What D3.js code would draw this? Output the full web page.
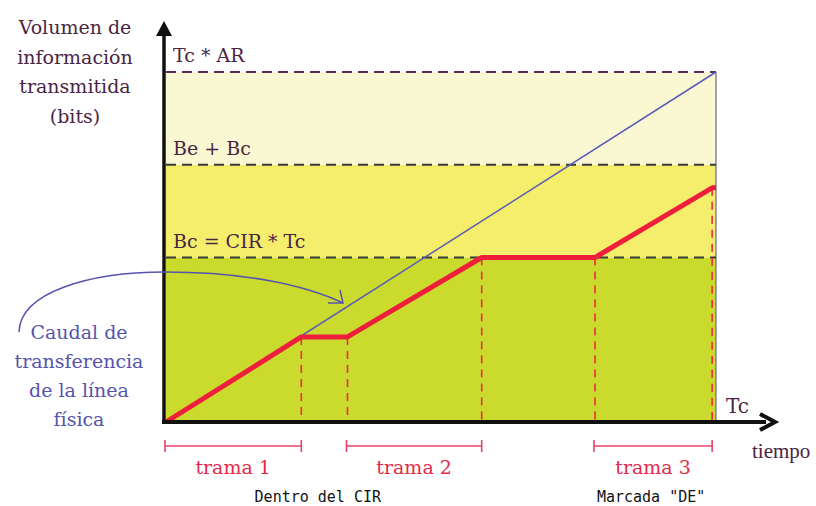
<!DOCTYPE html>
<html><head><meta charset="utf-8">
<script src="https://cdn.jsdelivr.net/npm/d3@7"></script>
<style>body{margin:0;background:#fff}svg{display:block}</style>
</head><body>
<svg id="c" width="816" height="506"></svg>
<script>
// ---- data (time in % of Tc, volume in % of Tc*AR) ----
const levelNames = ["Bc = CIR * Tc", "Be + Bc", "Tc * AR"];
const levelValues = [47, 73.5, 100];
const levelColors = ["#cbdb2e", "#f4ee6c", "#faf8d2"];
const frameTimes = [0, 24.6, 33, 57.4, 78, 99.3, 100];
const frameVolumes = [0, 24.3, 24.3, 47, 47, 66.9, 66.9];
const lineTimes = [0, 100];
const lineVolumes = [0, 100];
const dropTimes = [24.6, 33, 57.4, 78, 99.3];
const frameLabels = ["trama 1", "trama 2", "trama 3"];
const frameStarts = [0, 33, 78];
const frameEnds = [24.6, 57.4, 99.3];
const noteLabels = ["Dentro del CIR", "Marcada \"DE\""];
const noteTimes = [27.6, 88.2];

const svg = d3.select("#c");
const x = d3.scaleLinear().domain([0, 100]).range([166, 716]);
const y = d3.scaleLinear().domain([0, 100]).range([422, 72]);
const serif = "'DejaVu Serif', 'Liberation Serif', serif";
const textCol = "#4a2543";

// bands
const bounds = [0].concat(levelValues);
levelColors.forEach((c, i) => {
  svg.append("rect").attr("x", x(0)).attr("width", x(100) - x(0))
    .attr("y", y(bounds[i + 1])).attr("height", y(bounds[i]) - y(bounds[i + 1]))
    .attr("fill", c);
});
// right border
svg.append("line").attr("x1", x(100)).attr("x2", x(100)).attr("y1", y(100)).attr("y2", y(0))
  .attr("stroke", "#6a6a7a").attr("stroke-width", 1.2);
// dashed level lines
levelValues.forEach((v, i) => {
  svg.append("line").attr("x1", x(0)).attr("x2", x(100)).attr("y1", y(v)).attr("y2", y(v))
    .attr("stroke", i === 2 ? "#5a2e5a" : "#3a3a3a").attr("stroke-width", 2)
    .attr("stroke-dasharray", "10,6");
  svg.append("text").attr("x", x(0) + 7).attr("y", y(v) - 10)
    .attr("font-family", serif).attr("font-size", 19).attr("fill", textCol)
    .text(levelNames[i]);
});

// vertical red dashed drops
dropTimes.forEach(t => {
  const idx = frameTimes.indexOf(t);
  svg.append("line").attr("x1", x(t)).attr("x2", x(t)).attr("y1", y(frameVolumes[idx])).attr("y2", y(0))
    .attr("stroke", "#ee2a44").attr("stroke-width", 1.6).attr("stroke-dasharray", "8,6");
});

// blue physical line
const line = d3.line().x(d => x(d[0])).y(d => y(d[1]));
svg.append("path").attr("d", line(d3.zip(lineTimes, lineVolumes)))
  .attr("fill", "none").attr("stroke", "#5b5bb8").attr("stroke-width", 1.5);

// red frame line
svg.append("path").attr("d", line(d3.zip(frameTimes, frameVolumes)))
  .attr("fill", "none").attr("stroke", "#ee1f3c").attr("stroke-width", 5)
  .attr("stroke-linejoin", "round");

// axes
svg.append("line").attr("x1", 164).attr("x2", 164).attr("y1", 424).attr("y2", 34)
  .attr("stroke", "#111").attr("stroke-width", 3.5);
svg.append("path").attr("d", "M164,21 L156,36 L172,36 Z").attr("fill", "#111");
svg.append("line").attr("x1", 162).attr("x2", 766).attr("y1", 422).attr("y2", 422)
  .attr("stroke", "#111").attr("stroke-width", 4);
svg.append("path").attr("d", "M760,414 L775,422 L760,430").attr("fill", "none")
  .attr("stroke", "#111").attr("stroke-width", 4);

// axis labels
const ylab = ["Volumen de", "información", "transmitida", "(bits)"];
ylab.forEach((t, i) => {
  svg.append("text").attr("x", 75).attr("y", 34 + i * 29.5).attr("text-anchor", "middle")
    .attr("font-family", serif).attr("font-size", 19).attr("fill", textCol).text(t);
});
svg.append("text").attr("x", 726).attr("y", 413).attr("font-family", serif)
  .attr("font-size", 20).attr("fill", textCol).text("Tc");
svg.append("text").attr("x", 752).attr("y", 458).attr("font-family", "'Liberation Serif', serif")
  .attr("font-size", 21).attr("fill", textCol).text("tiempo");

// blue annotation
const blab = ["Caudal de", "transferencia", "de la línea", "física"];
blab.forEach((t, i) => {
  svg.append("text").attr("x", 79).attr("y", 339 + i * 29).attr("text-anchor", "middle")
    .attr("font-family", serif).attr("font-size", 19).attr("fill", "#5654ad").text(t);
});
svg.append("path").attr("d", "M19,332 C20,292 90,272 165,272 C245,272 305,285 343,303")
  .attr("fill", "none").attr("stroke", "#5654ad").attr("stroke-width", 1.5);
svg.append("path").attr("d", "M340,290 L343,303 L328,303")
  .attr("fill", "none").attr("stroke", "#5654ad").attr("stroke-width", 1.5);

// frame brackets
frameLabels.forEach((lab, i) => {
  const a = x(frameStarts[i]) - 1, b = x(frameEnds[i]);
  const g = svg.append("g").attr("stroke", "#e8426a").attr("stroke-width", 1.6);
  g.append("line").attr("x1", a).attr("x2", b).attr("y1", 446).attr("y2", 446);
  g.append("line").attr("x1", a).attr("x2", a).attr("y1", 440).attr("y2", 452);
  g.append("line").attr("x1", b).attr("x2", b).attr("y1", 440).attr("y2", 452);
  svg.append("text").attr("x", (a + b) / 2).attr("y", 474).attr("text-anchor", "middle")
    .attr("font-family", serif).attr("font-size", 19).attr("fill", "#e22a48").text(lab);
});

// notes
noteLabels.forEach((t, i) => {
  svg.append("text").attr("x", x(noteTimes[i])).attr("y", 502).attr("text-anchor", "middle")
    .attr("font-family", "'DejaVu Sans Mono', 'Liberation Mono', monospace")
    .attr("font-size", 15).attr("fill", "#111").text(t);
});
</script>
</body></html>
